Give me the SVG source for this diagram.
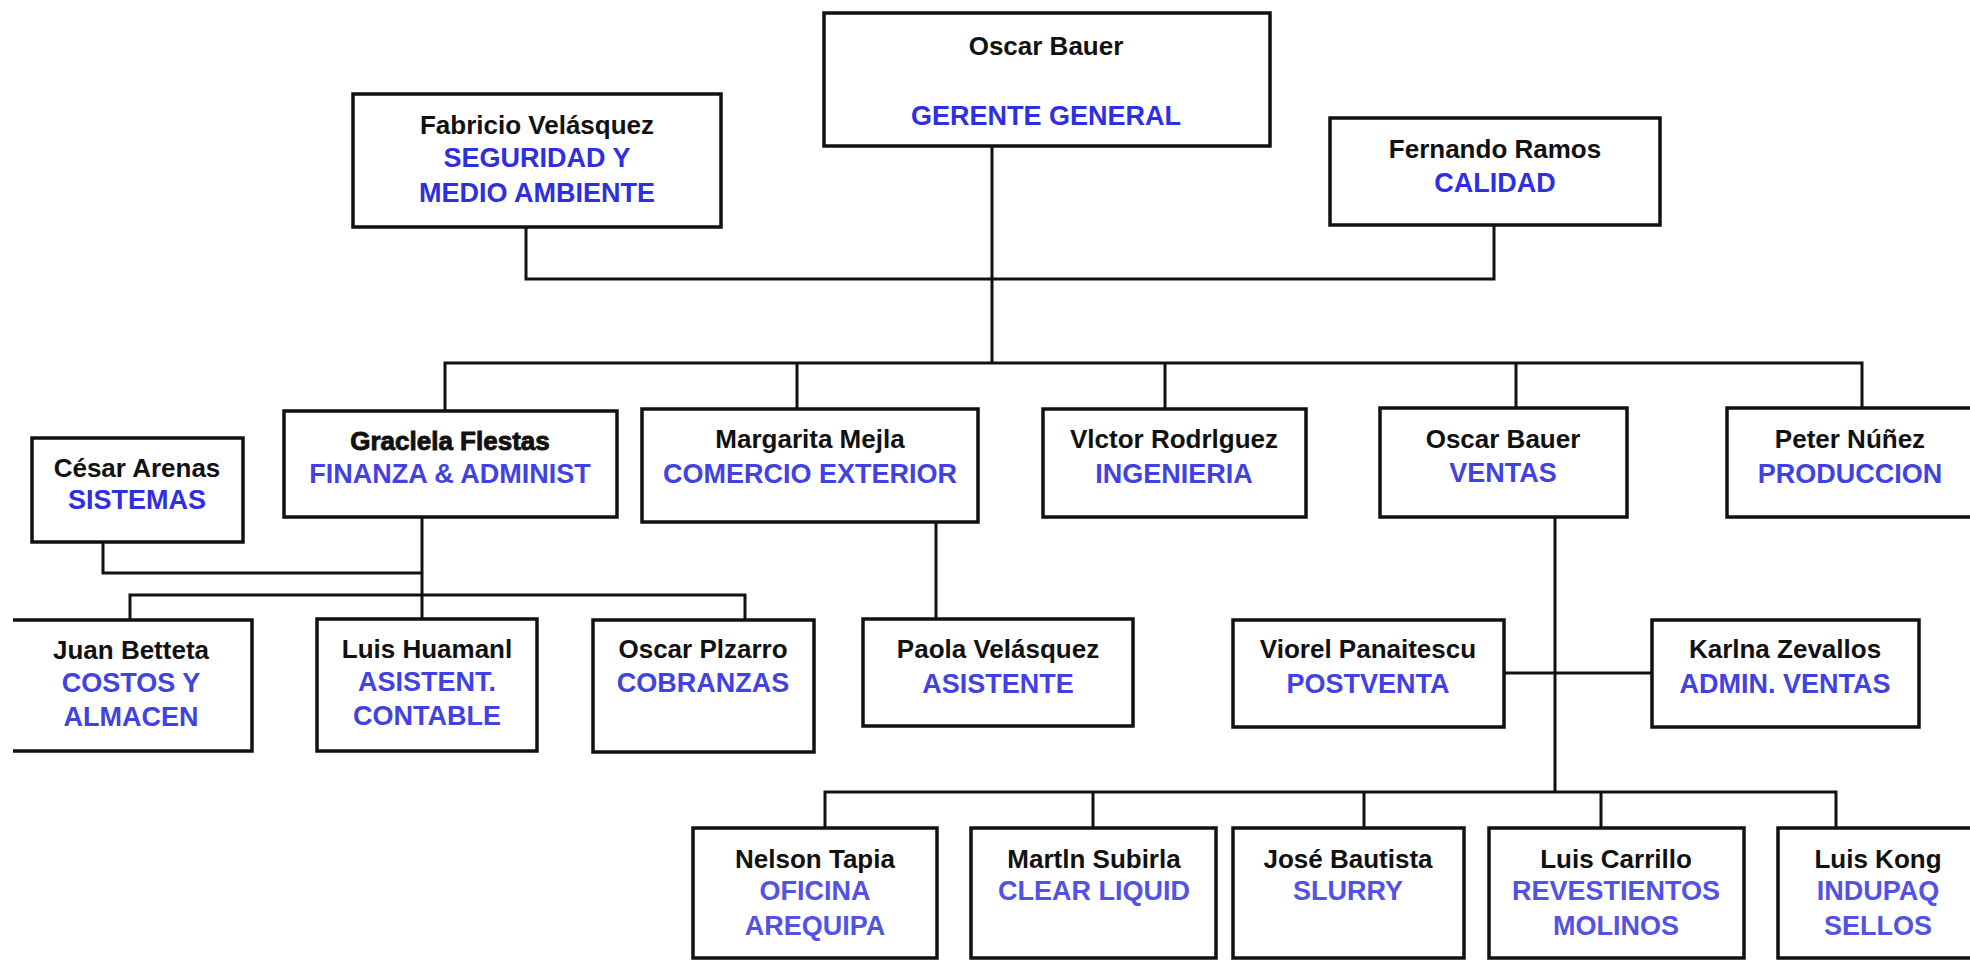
<svg xmlns="http://www.w3.org/2000/svg" width="1970" height="960" viewBox="0 0 1970 960">
  <style>
    .box { fill: #ffffff; stroke: #111111; stroke-width: 3.5; }
    .wire { fill: none; stroke: #111111; stroke-width: 3; }
    .nm { font-family: "Liberation Sans", Arial, sans-serif; font-weight: bold; font-size: 26px; fill: #111111; text-anchor: middle; }
    .hv { stroke: #111111; stroke-width: 0.9; }
    .dp { font-family: "Liberation Sans", Arial, sans-serif; font-weight: bold; font-size: 27px; fill: #2e2ee2; text-anchor: middle; }
    .dp2 { fill: #4242e2; }
    .dp3 { fill: #5252e4; }
  </style>
  <rect width="1970" height="960" fill="#ffffff"/>

  <!-- reporting lines -->
  <g id="connectors">
    <path class="wire" d="M992 146 V363"/>
    <path class="wire" d="M526 227 V279 H1494 V225"/>
    <path class="wire" d="M445 411 V363 H1862 V408"/>
    <path class="wire" d="M797 363 V409"/>
    <path class="wire" d="M1165 363 V409"/>
    <path class="wire" d="M1516 363 V408"/>
    <path class="wire" d="M422 517 V619"/>
    <path class="wire" d="M103 542 V573 H422"/>
    <path class="wire" d="M130 620 V595 H745 V620"/>
    <path class="wire" d="M936 522 V619"/>
    <path class="wire" d="M1555 517 V792"/>
    <path class="wire" d="M1504 673 H1652"/>
    <path class="wire" d="M825 828 V792 H1836 V828"/>
    <path class="wire" d="M1093 792 V828"/>
    <path class="wire" d="M1364 792 V828"/>
    <path class="wire" d="M1601 792 V828"/>
  </g>

  <g id="gerente-general">
    <rect class="box" x="824" y="13" width="446" height="133"/>
    <text class="nm" x="1046" y="55">Oscar Bauer</text>
    <text class="dp" x="1046" y="125">GERENTE GENERAL</text>
  </g>

  <g id="seguridad">
    <rect class="box" x="353" y="94" width="368" height="133"/>
    <text class="nm" x="537" y="134">Fabricio Velásquez</text>
    <text class="dp" x="537" y="167">SEGURIDAD Y</text>
    <text class="dp" x="537" y="202">MEDIO AMBIENTE</text>
  </g>

  <g id="calidad">
    <rect class="box" x="1330" y="118" width="330" height="107"/>
    <text class="nm" x="1495" y="158">Fernando Ramos</text>
    <text class="dp" x="1495" y="192">CALIDAD</text>
  </g>

  <g id="sistemas">
    <rect class="box" x="32" y="438" width="211" height="104"/>
    <text class="nm" x="137" y="477">César Arenas</text>
    <text class="dp" x="137" y="509">SISTEMAS</text>
  </g>

  <g id="finanzas">
    <rect class="box" x="284" y="411" width="333" height="106"/>
    <text class="nm hv" x="450" y="450">Graclela Flestas</text>
    <text class="dp dp2" x="450" y="483">FINANZA &amp; ADMINIST</text>
  </g>

  <g id="comercio-exterior">
    <rect class="box" x="642" y="409" width="336" height="113"/>
    <text class="nm" x="810" y="448">Margarita Mejla</text>
    <text class="dp dp2" x="810" y="483">COMERCIO EXTERIOR</text>
  </g>

  <g id="ingenieria">
    <rect class="box" x="1043" y="409" width="263" height="108"/>
    <text class="nm" x="1174" y="448">Vlctor Rodrlguez</text>
    <text class="dp dp2" x="1174" y="483">INGENIERIA</text>
  </g>

  <g id="ventas">
    <rect class="box" x="1380" y="408" width="247" height="109"/>
    <text class="nm" x="1503" y="448">Oscar Bauer</text>
    <text class="dp dp2" x="1503" y="482">VENTAS</text>
  </g>

  <g id="produccion">
    <path class="box" d="M1975 408 H1727 V517 H1975"/>
    <text class="nm" x="1850" y="448">Peter Núñez</text>
    <text class="dp dp2" x="1850" y="483">PRODUCCION</text>
  </g>

  <g id="costos">
    <path class="box" d="M13 620 H252 V751 H13"/>
    <text class="nm" x="131" y="659">Juan Betteta</text>
    <text class="dp dp2" x="131" y="692">COSTOS Y</text>
    <text class="dp dp2" x="131" y="726">ALMACEN</text>
  </g>

  <g id="contable">
    <rect class="box" x="317" y="619" width="220" height="132"/>
    <text class="nm" x="427" y="658">Luis Huamanl</text>
    <text class="dp dp2" x="427" y="691">ASISTENT.</text>
    <text class="dp dp2" x="427" y="725">CONTABLE</text>
  </g>

  <g id="cobranzas">
    <rect class="box" x="593" y="620" width="221" height="132"/>
    <text class="nm" x="703" y="658">Oscar Plzarro</text>
    <text class="dp dp2" x="703" y="692">COBRANZAS</text>
  </g>

  <g id="asistente">
    <rect class="box" x="863" y="619" width="270" height="107"/>
    <text class="nm" x="998" y="658">Paola Velásquez</text>
    <text class="dp dp2" x="998" y="693">ASISTENTE</text>
  </g>

  <g id="postventa">
    <rect class="box" x="1233" y="620" width="271" height="107"/>
    <text class="nm" x="1368" y="658">Viorel Panaitescu</text>
    <text class="dp dp2" x="1368" y="693">POSTVENTA</text>
  </g>

  <g id="admin-ventas">
    <rect class="box" x="1652" y="620" width="267" height="107"/>
    <text class="nm" x="1785" y="658">Karlna Zevallos</text>
    <text class="dp dp2" x="1785" y="693">ADMIN. VENTAS</text>
  </g>

  <g id="arequipa">
    <rect class="box" x="693" y="828" width="244" height="130"/>
    <text class="nm" x="815" y="868">Nelson Tapia</text>
    <text class="dp dp3" x="815" y="900">OFICINA</text>
    <text class="dp dp3" x="815" y="935">AREQUIPA</text>
  </g>

  <g id="clear-liquid">
    <rect class="box" x="971" y="828" width="245" height="130"/>
    <text class="nm" x="1094" y="868">Martln Subirla</text>
    <text class="dp dp3" x="1094" y="900">CLEAR LIQUID</text>
  </g>

  <g id="slurry">
    <rect class="box" x="1233" y="828" width="231" height="130"/>
    <text class="nm" x="1348" y="868">José Bautista</text>
    <text class="dp dp3" x="1348" y="900">SLURRY</text>
  </g>

  <g id="revestimientos">
    <rect class="box" x="1489" y="828" width="255" height="130"/>
    <text class="nm" x="1616" y="868">Luis Carrillo</text>
    <text class="dp dp3" x="1616" y="900">REVESTIENTOS</text>
    <text class="dp dp3" x="1616" y="935">MOLINOS</text>
  </g>

  <g id="sellos">
    <path class="box" d="M1975 828 H1778 V958 H1975"/>
    <text class="nm" x="1878" y="868">Luis Kong</text>
    <text class="dp dp3" x="1878" y="900">INDUPAQ</text>
    <text class="dp dp3" x="1878" y="935">SELLOS</text>
  </g>
</svg>
